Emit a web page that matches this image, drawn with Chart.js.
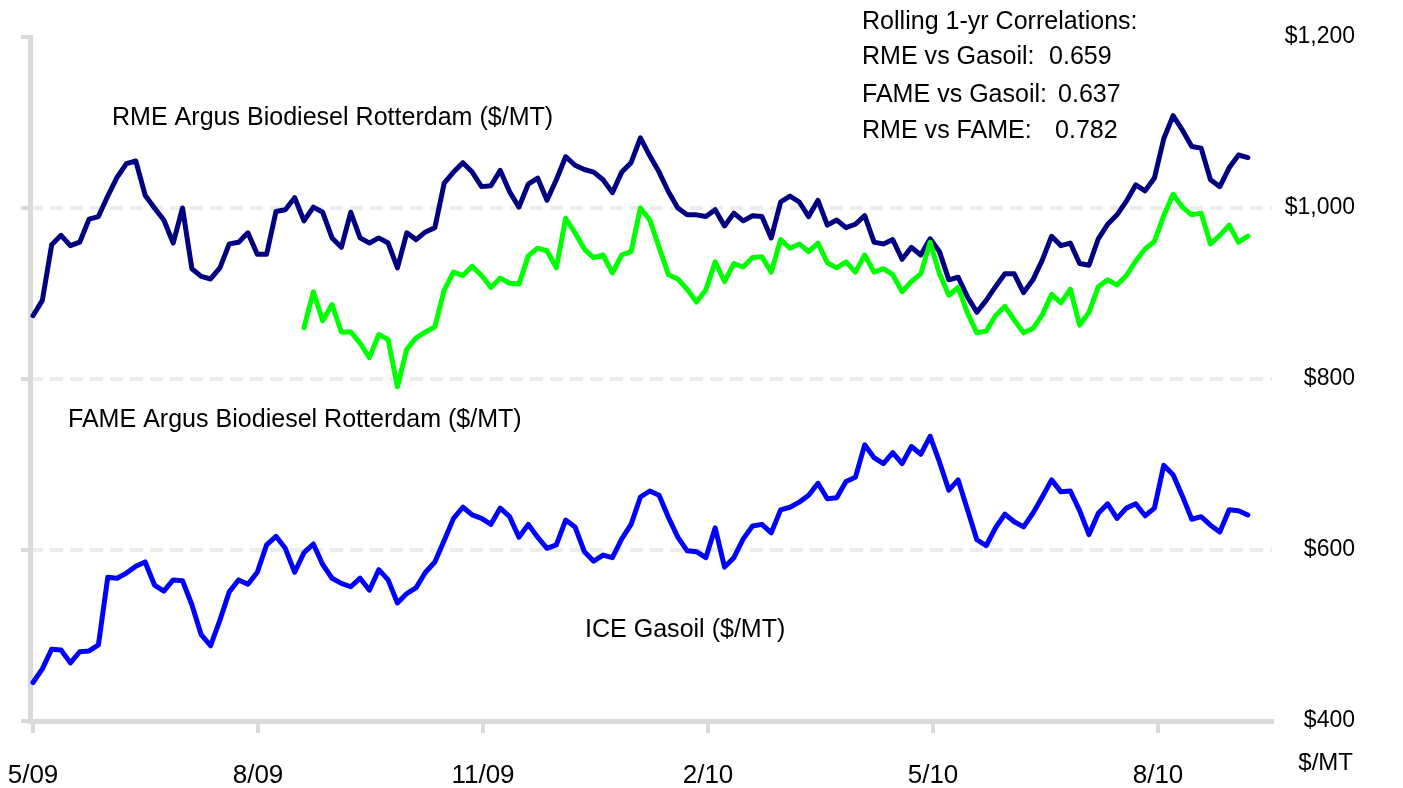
<!DOCTYPE html>
<html>
<head>
<meta charset="utf-8">
<script src="https://cdn.jsdelivr.net/npm/chart.js"></script>
<title>RME / FAME Biodiesel vs ICE Gasoil</title>
<style>
  html, body { margin: 0; padding: 0; background: #fff; }
  #wrap { position: relative; width: 1403px; height: 788px; }
</style>
</head>
<body>
<div id="wrap"><canvas id="chart" width="1403" height="788"></canvas></div>
<script>
// x axis is in months since May 2009, one observation every obsStep months
const monthTicks = [0, 3, 6, 9, 12, 15];
const monthLabels = ['5/09', '8/09', '11/09', '2/10', '5/10', '8/10'];
const priceTicks = [400, 600, 800, 1000, 1200];
const obsStep = 0.1246;

// RME Argus Biodiesel Rotterdam ($/MT)
const rme = [
  874, 892, 957, 968, 956, 960, 987, 990, 1014, 1036,
  1052, 1055, 1015, 1000, 986, 959, 1000, 929, 920, 917,
  930, 958, 960, 971, 946, 946, 996, 998, 1012, 985,
  1001, 995, 965, 954, 995, 965, 959, 965, 959, 930,
  971, 963, 972, 977, 1029, 1042, 1053, 1042, 1025, 1026,
  1044, 1019, 1001, 1028, 1035, 1009, 1033, 1060, 1050, 1045,
  1042, 1033, 1018, 1042, 1053, 1082, 1061, 1042, 1019, 1000,
  992, 992, 990, 998, 979, 994, 985, 991, 990, 965,
  1007, 1014, 1007, 990, 1009, 980, 986, 977, 981, 991,
  960, 958, 963, 940, 954, 945, 964, 949, 916, 919,
  896, 878, 892, 908, 923, 923, 901, 916, 939, 967,
  956, 959, 935, 933, 964, 981, 992, 1008, 1027, 1020,
  1035, 1081, 1108, 1091, 1072, 1070, 1033, 1025, 1047, 1062,
  1059
];

// FAME Argus Biodiesel Rotterdam ($/MT), first quote at observation fameStart
const fameStart = 29;
const fame = [
  860, 902, 868, 887, 855, 855, 842, 825, 852, 846,
  791, 835, 848, 855, 861, 904, 925, 921, 932, 921,
  907, 918, 912, 911, 944, 953, 950, 930, 988, 971,
  952, 942, 945, 924, 945, 949, 1000, 986, 954, 922,
  917, 905, 890, 904, 937, 914, 935, 931, 942, 943,
  925, 963, 953, 958, 949, 959, 936, 930, 937, 925,
  945, 925, 929, 922, 902, 914, 923, 960, 923, 898,
  907, 877, 854, 856, 874, 885, 869, 854, 859, 875,
  899, 889, 905, 863, 878, 908, 916, 910, 921, 938,
  952, 961, 991, 1016, 1001, 992, 994, 958, 968, 980,
  960, 967
];

// ICE Gasoil ($/MT)
const gasoil = [
  445, 461, 484, 483, 468, 481, 482, 489, 568, 567,
  573, 581, 586, 559, 552, 565, 564, 536, 501, 488,
  518, 551, 565, 560, 574, 606, 616, 602, 574, 597,
  607, 583, 567, 561, 557, 567, 553, 577, 565, 538,
  549, 556, 574, 586, 611, 637, 650, 641, 637, 630,
  649, 639, 615, 630, 615, 602, 606, 635, 627, 598,
  587, 594, 591, 613, 630, 662, 669, 664, 638, 615,
  599, 598, 591, 626, 580, 591, 613, 628, 630, 620,
  647, 650, 656, 664, 678, 660, 661, 680, 685, 723,
  708, 701, 714, 701, 721, 712, 733, 703, 670, 682,
  647, 612, 605, 626, 642, 633, 627, 643, 662, 682,
  668, 669, 646, 618, 643, 654, 637, 649, 654, 640,
  649, 699, 688, 663, 636, 639, 629, 621, 647, 646,
  641
];

const notes = [
  { text: 'RME Argus Biodiesel Rotterdam ($/MT)', x: 112, y: 118 },
  { text: 'FAME Argus Biodiesel Rotterdam ($/MT)', x: 68, y: 420 },
  { text: 'ICE Gasoil ($/MT)', x: 585, y: 630 },
  { text: 'Rolling 1-yr Correlations:', x: 862, y: 22 },
  { text: 'RME vs Gasoil:', x: 862, y: 57 },
  { text: '0.659', x: 1049, y: 57 },
  { text: 'FAME vs Gasoil:', x: 862, y: 95 },
  { text: '0.637', x: 1058, y: 95 },
  { text: 'RME vs FAME:', x: 862, y: 131 },
  { text: '0.782', x: 1055, y: 131 }
];

const FONT = "'Liberation Sans', Arial, sans-serif";

function toPoints(vals, start) {
  return vals.map((v, i) => ({ x: (start + i) * obsStep, y: v }));
}

function fixedTicks(list) {
  return scale => { scale.ticks = list.map(v => ({ value: v })); };
}

// free text labels and the unit under the price axis
const notesPlugin = {
  id: 'notes',
  afterDraw(chart) {
    const ctx = chart.ctx;
    ctx.save();
    ctx.fillStyle = '#000';
    ctx.textBaseline = 'middle';
    ctx.textAlign = 'left';
    ctx.font = '26.5px ' + FONT;
    notes.forEach(n => {
      ctx.save();
      ctx.translate(n.x, n.y);
      ctx.scale(0.945, 1);
      ctx.fillText(n.text, 0, 0);
      ctx.restore();
    });
    ctx.font = '24px ' + FONT;
    ctx.textAlign = 'right';
    ctx.fillText('$/MT', 1353, 763);
    ctx.restore();
  }
};

const lineStyle = {
  borderWidth: 5,
  pointRadius: 0,
  tension: 0,
  fill: false,
  borderJoinStyle: 'round',
  borderCapStyle: 'round'
};

new Chart(document.getElementById('chart'), {
  type: 'line',
  data: {
    datasets: [
      { label: 'ICE Gasoil', data: toPoints(gasoil, 0), borderColor: '#0000ff', ...lineStyle },
      { label: 'FAME', data: toPoints(fame, fameStart), borderColor: '#00ff00', ...lineStyle },
      { label: 'RME', data: toPoints(rme, 0), borderColor: '#000080', ...lineStyle }
    ]
  },
  options: {
    responsive: false,
    animation: false,
    layout: { padding: { top: 37, right: 48, left: 0, bottom: 0 } },
    plugins: {
      legend: { display: false },
      tooltip: { enabled: false }
    },
    scales: {
      x: {
        type: 'linear',
        min: -0.04,
        max: 16.52,
        afterBuildTicks: fixedTicks(monthTicks),
        afterFit: s => { s.height = 67; s.paddingLeft = 0; s.paddingRight = 0; },
        grid: { drawOnChartArea: false, drawTicks: true, tickLength: 12, color: '#d9d9d9', lineWidth: 4 },
        border: { display: true, color: '#d9d9d9', width: 5 },
        ticks: {
          autoSkip: false,
          maxRotation: 0,
          padding: 27,
          color: '#000',
          font: { family: FONT, size: 26 },
          callback: v => monthLabels[monthTicks.indexOf(v)]
        }
      },
      y: {
        position: 'right',
        min: 400,
        max: 1200,
        afterBuildTicks: fixedTicks(priceTicks),
        afterFit: s => { s.width = 83; s.paddingTop = 0; s.paddingBottom = 0; },
        grid: {
          drawTicks: false,
          lineWidth: 4,
          color: c => (c.tick && [600, 800, 1000].includes(c.tick.value)) ? '#ececec' : 'rgba(0,0,0,0)'
        },
        border: { display: false, dash: [13, 7] },
        ticks: {
          crossAlign: 'far',
          padding: 16,
          color: '#000',
          font: { family: FONT, size: 23 },
          callback: v => '$' + v.toLocaleString('en-US')
        }
      },
      yl: {
        position: 'left',
        min: 400,
        max: 1200,
        afterBuildTicks: fixedTicks(priceTicks),
        afterFit: s => { s.width = 30; },
        grid: { drawOnChartArea: false, drawTicks: true, tickLength: 9, color: '#d9d9d9', lineWidth: 4 },
        border: { display: true, color: '#d9d9d9', width: 5 },
        ticks: { display: false }
      }
    }
  },
  plugins: [notesPlugin]
});
</script>
</body>
</html>
